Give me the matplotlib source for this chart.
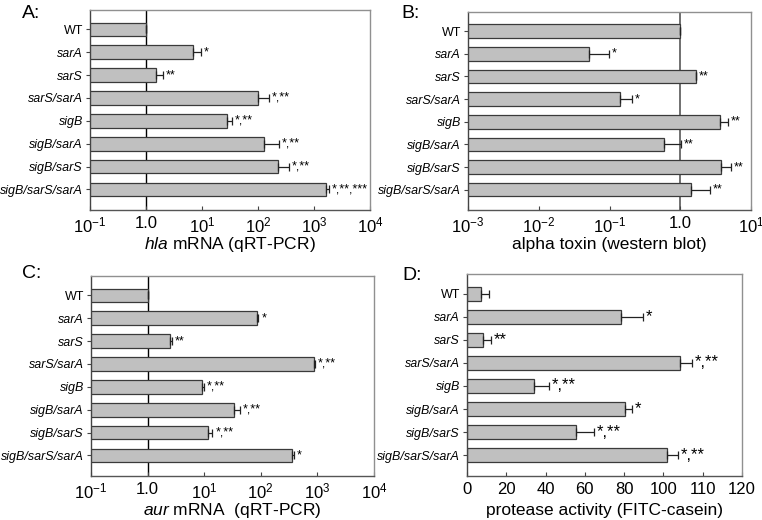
import matplotlib.pyplot as plt
import numpy as np

plt.rcParams['font.family'] = ['Liberation Sans', 'DejaVu Sans']
plt.rcParams['mathtext.fontset'] = 'custom'
plt.rcParams['mathtext.rm'] = 'Liberation Sans'
plt.rcParams['mathtext.it'] = 'Liberation Sans:italic'

strains = ['WT', 'sarA', 'sarS', 'sarS/sarA', 'sigB', 'sigB/sarA', 'sigB/sarS', 'sigB/sarS/sarA']

# A: hla mRNA (qRT-PCR)
hla_val = [1.0, 6.8, 1.53, 98.6, 27.9, 129, 230, 1620]
hla_err = [0, 2.8, 0.51, 56, 6.9, 105, 132, 206]
hla_sig = ['', '*', '**', '*,**', '*,**', '*,**', '*,**', '*,**,***']

# B: alpha toxin (western blot)
tox_val = [1.0, 0.051, 1.65, 0.139, 3.6, 0.58, 3.8, 1.43]
tox_err = [0, 0.046, 0, 0.072, 1.12, 0.45, 1.4, 1.17]
tox_sig = ['', '*', '**', '*', '**', '**', '**', '**']

# C: aur mRNA (qRT-PCR)
aur_val = [1.0, 85, 2.46, 861, 9.3, 33, 11.6, 350]
aur_err = [0, 6, 0.28, 34, 0.7, 10, 2.4, 34]
aur_sig = ['', '*', '**', '*,**', '*,**', '*,**', '*,**', '*']

# D: protease activity (FITC-casein); axis positions, printed tick labels as in the figure
prot_val = [7.3, 78.4, 8.2, 108.5, 34.2, 80.5, 55.5, 101.7]
prot_err = [3.8, 11.4, 3.9, 6.0, 7.6, 3.7, 9.1, 5.6]
prot_sig = ['', '*', '**', '*,**', '*,**', '*', '*,**', '*,**']
prot_ticks = [0, 20, 40, 60, 80, 100, 120, 140]
prot_ticklabels = ['0', '20', '40', '60', '80', '100', '110', '120']

W, H = 762, 520
fig = plt.figure(figsize=(W / 100, H / 100), dpi=100)


def panel(l, r, t, b, vals, errs, sigs, xlabel, letter, letter_xy, logx=True, ref=None,
          refcolor='black', reflw=1.0, sigsize=9):
    ax = fig.add_axes([l / W, 1 - b / H, (r - l) / W, (b - t) / H])
    y = np.arange(len(strains))
    ax.barh(y, vals, height=0.6, color='#c0c0c0', edgecolor='#3a3a3a', linewidth=0.9,
            zorder=2)
    errs = np.array(errs)
    ax.errorbar(vals, y, xerr=[np.zeros_like(errs), errs], fmt='none', ecolor='#222222',
                elinewidth=0.9, capsize=3, capthick=0.9, zorder=3)
    for v, e, s, yy in zip(vals, errs, sigs, y):
        if s:
            ax.annotate(s, (v + e, yy), xytext=(2, 0), textcoords='offset points',
                        va='center', ha='left', fontsize=sigsize, zorder=4)
    if logx:
        ax.set_xscale('log')
    if ref is not None:
        ax.axvline(ref, color=refcolor, lw=reflw, zorder=1)
    ax.set_ylim(7.9, -0.85)
    ax.set_yticks(y)
    ax.set_yticklabels(strains, fontsize=9)
    for tl in ax.get_yticklabels():
        if tl.get_text() != 'WT':
            tl.set_fontstyle('italic')
    ax.tick_params(axis='y', length=3, width=0.8, color='#444444', pad=2)
    ax.tick_params(axis='x', which='major', direction='in', length=3, width=0.8,
                   color='#444444', labelsize=12, pad=4)
    ax.tick_params(axis='x', which='minor', length=0)
    ax.set_xlabel(xlabel, fontsize=12.5, va='center')
    ax.xaxis.set_label_coords(0.5, -34 / (b - t))
    for side in ['top', 'right']:
        ax.spines[side].set_color('#909090')
    ax.spines['left'].set_color('#444444')
    ax.spines['bottom'].set_color('#555555')
    for sp in ax.spines.values():
        sp.set_linewidth(1.0)
    fig.text(letter_xy[0] / W, 1 - letter_xy[1] / H, letter, fontsize=14, va='center',
             ha='left')
    return ax


def logticks(ax, lo, hi):
    ticks = [10.0 ** k for k in range(lo, hi + 1)]
    labels = ['1.0' if k == 0 else r'$\mathregular{10^{%d}}$' % k for k in range(lo, hi + 1)]
    ax.set_xlim(ticks[0], ticks[-1])
    ax.set_xticks(ticks)
    ax.set_xticklabels(labels)


axA = panel(90, 370, 10, 210, hla_val, hla_err, hla_sig,
            r'$\mathit{hla}$ mRNA (qRT-PCR)', 'A:', (22, 14), ref=1.0)
logticks(axA, -1, 4)

axB = panel(468, 751, 12, 210, tox_val, tox_err, tox_sig,
            'alpha toxin (western blot)', 'B:', (401, 14), ref=1.0, refcolor='#707070',
            reflw=1.4)
logticks(axB, -3, 1)

axC = panel(91, 374, 276, 476, aur_val, aur_err, aur_sig,
            r'$\mathit{aur}$ mRNA  (qRT-PCR)', 'C:', (22, 274), ref=1.0)
logticks(axC, -1, 4)

axD = panel(467, 742, 274, 476, prot_val, prot_err, prot_sig,
            'protease activity (FITC-casein)', 'D:', (402, 275), logx=False, sigsize=12)
axD.set_xlim(0, 140)
axD.set_xticks(prot_ticks)
axD.set_xticklabels(prot_ticklabels)

fig.savefig('out.png', dpi=100)
